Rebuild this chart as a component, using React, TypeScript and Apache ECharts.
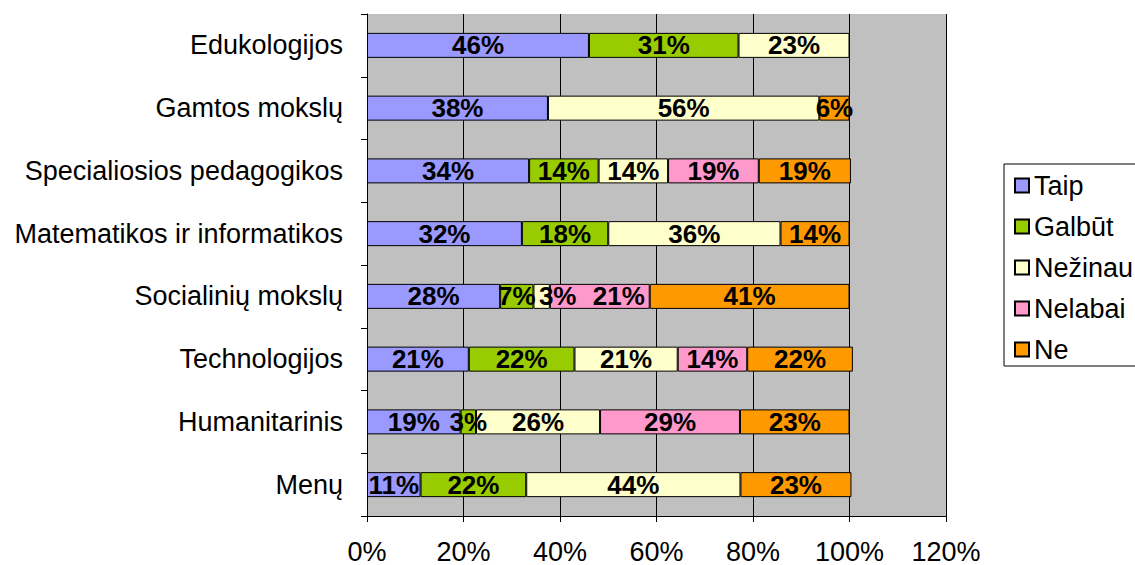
import React, { useEffect, useRef } from "react";
import * as echarts from "echarts";

const categories = [
  "Edukologijos",
  "Gamtos mokslų",
  "Specialiosios pedagogikos",
  "Matematikos ir informatikos",
  "Socialinių mokslų",
  "Technologijos",
  "Humanitarinis",
  "Menų",
];

const seriesNames = ["Taip", "Galbūt", "Nežinau", "Nelabai", "Ne"];
const colors = ["#9999FF", "#99CC00", "#FFFFCC", "#FF99CC", "#FF9900"];

const taip = [46, 37.5, 33.6, 32.1, 27.6, 21.1, 19.4, 11.1];
const galbut = [31, null, 14.4, 17.9, 6.9, 21.9, 3.2, 21.9];
const nezinau = [23, 56.25, 14.4, 35.7, 3.4, 21.4, 25.7, 44.4];
const nelabai = [null, null, 18.8, null, 20.7, 14.4, 29.0, null];
const ne = [null, 6.25, 19.1, 14.3, 41.4, 21.9, 22.7, 23.0];

const seriesValues = [taip, galbut, nezinau, nelabai, ne];

const xTicks = { min: 0, max: 120, interval: 20 };

const FONT = "Liberation Sans, Arial, sans-serif";

// label nudge (series index, category index) -> px offset, as Excel did to avoid overlap
const labelNudges: Record<string, number[]> = { "2-4": [16, 0], "3-4": [19, 0] };

export default function App() {
  const ref = useRef<HTMLDivElement>(null);
  useEffect(() => {
    if (!ref.current) return;
    const chart = echarts.init(ref.current, null, { renderer: "svg" });
    chart.setOption({
      animation: false,
      textStyle: { fontFamily: FONT },
      grid: {
        left: 367,
        right: 189,
        top: 14,
        bottom: 48,
        show: true,
        backgroundColor: "#C0C0C0",
        borderWidth: 0,
      },
      legend: {
        orient: "vertical",
        left: 1004,
        top: 164,
        backgroundColor: "#FFFFFF",
        borderColor: "#000000",
        borderWidth: 1,
        borderRadius: 0,
        padding: [8, 10, 3, 10],
        itemGap: 14,
        itemWidth: 14,
        itemHeight: 14,
        itemTextGap: 9,
        icon: "rect",
        textStyle: { fontFamily: FONT, fontSize: 27, color: "#000" },
        data: seriesNames,
      },
      xAxis: {
        type: "value",
        min: xTicks.min,
        max: xTicks.max,
        interval: xTicks.interval,
        axisLine: { show: true, lineStyle: { color: "#000", width: 1 } },
        axisTick: { show: true, length: 6, lineStyle: { color: "#000" } },
        splitLine: { show: true, lineStyle: { color: "#000", width: 1 } },
        axisLabel: {
          formatter: (v: number) => `${v}%`,
          fontFamily: FONT,
          fontSize: 27,
          color: "#000",
          margin: 22,
        },
      },
      yAxis: {
        type: "category",
        inverse: true,
        data: categories,
        axisLine: { show: true, lineStyle: { color: "#000", width: 1 } },
        axisTick: { show: true, length: 6, lineStyle: { color: "#000" } },
        axisLabel: {
          fontFamily: FONT,
          fontSize: 27,
          color: "#000",
          margin: 24,
        },
      },
      series: seriesNames.map((name, i) => ({
        name,
        type: "bar",
        stack: "total",
        barWidth: 25,
        data: seriesValues[i].map((v, j) => {
          const nudge = labelNudges[`${i}-${j}`];
          return nudge ? { value: v, label: { offset: nudge } } : v;
        }),
        itemStyle: { color: colors[i], borderColor: "#000", borderWidth: 1 },
        label: {
          show: true,
          position: "inside",
          formatter: (p: any) =>
            p.value == null ? "" : `${Math.round(p.value)}%`,
          fontFamily: FONT,
          fontSize: 26,
          fontWeight: "bold",
          color: "#000",
        },
        emphasis: { disabled: true },
      })),
    });
    return () => chart.dispose();
  }, []);
  return (
    <div
      ref={ref}
      style={{ position: "fixed", left: 0, top: 0, width: 1135, height: 565, background: "#fff" }}
    />
  );
}
